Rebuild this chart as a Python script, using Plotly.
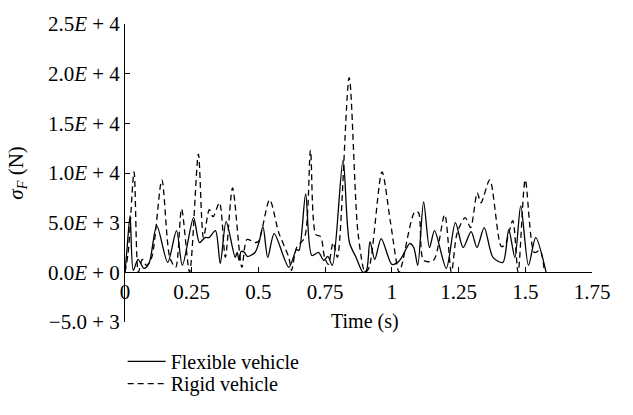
import plotly.graph_objects as go

# Flexible vehicle (solid)
flex_t = [0.0, 0.008, 0.019, 0.031, 0.049, 0.071, 0.09, 0.119, 0.16, 0.193, 0.215, 0.257,
          0.279, 0.30, 0.315, 0.339, 0.357, 0.379, 0.413, 0.42, 0.428, 0.435, 0.448, 0.458,
          0.487, 0.502, 0.517, 0.535, 0.559, 0.614, 0.643, 0.652, 0.677, 0.70, 0.725, 0.745,
          0.76, 0.777, 0.817, 0.841, 0.866, 0.892, 0.905, 0.918, 0.936, 0.96, 1.0, 1.022,
          1.037, 1.067, 1.082, 1.097, 1.119, 1.141, 1.16, 1.204, 1.238, 1.267, 1.297, 1.319,
          1.346, 1.379, 1.416, 1.438, 1.461, 1.483, 1.512, 1.539, 1.578]
flex_v = [0, 2500, 5700, 200, 1300, 400, 900, 4700, 1000, 4200, 700, 5500,
          3000, 3500, 3500, 4200, 900, 5100, 1500, 2000, 1200, 2100, 2000, 1600,
          2000, 3000, 4600, 1500, 3900, 500, 2300, 2200, 7900, 1700, 2000, 1200,
          1600, 700, 11300, 3000, 1500, 0, 200, 3100, 1300, 3400, 800, 1000,
          1500, 2900, 2500, 700, 7100, 2500, 4200, 400, 5000, 2500, 4100, 2500,
          4500, 1500, 1000, 4300, 1500, 6700, 700, 3500, 0]

# Rigid vehicle (dashed)
rigid_t = [0.0, 0.012, 0.034, 0.05, 0.065, 0.08, 0.1, 0.138, 0.168, 0.19, 0.212, 0.242,
           0.275, 0.294, 0.316, 0.33, 0.354, 0.376, 0.403, 0.438, 0.457, 0.487, 0.5, 0.542,
           0.576, 0.614, 0.624, 0.643, 0.673, 0.695, 0.715, 0.733, 0.748, 0.762, 0.78, 0.796,
           0.84, 0.873, 0.9, 0.915, 0.963, 0.995, 1.027, 1.037, 1.086, 1.1, 1.119, 1.156,
           1.198, 1.223, 1.245, 1.275, 1.295, 1.32, 1.334, 1.367, 1.41, 1.425, 1.453, 1.473,
           1.5, 1.534, 1.555, 1.572]
rigid_v = [0, 2000, 10100, 0, 1300, 700, 1500, 9300, 1500, 500, 6400, 0,
           11900, 3500, 6300, 5600, 7000, 1500, 8500, 500, 3300, 3000, 3100, 7300,
           4000, 1500, 200, 2500, 3500, 12300, 3800, 3600, 1500, 800, 3000, 1500,
           19600, 4000, 0, 500, 10100, 5000, 0, 700, 6100, 6000, 1200, 1200,
           5800, 0, 4000, 5500, 4500, 8000, 7000, 9300, 2600, 2800, 5200, 0,
           9300, 2000, 2200, 0]

x_ticks = [0, 0.25, 0.5, 0.75, 1, 1.25, 1.5, 1.75]
x_tick_labels = ["0", "0.25", "0.5", "0.75", "1", "1.25", "1.5", "1.75"]
y_ticks = [-5000, 0, 5000, 10000, 15000, 20000, 25000]
y_tick_labels = ["\u22125.0 + 3", "0.0<i>E</i> + 0", "5.0<i>E</i> + 3", "1.0<i>E</i> + 4",
                 "1.5<i>E</i> + 4", "2.0<i>E</i> + 4", "2.5<i>E</i> + 4"]

FONT = "Liberation Serif"
FS = 21

fig = go.Figure()
fig.add_trace(go.Scatter(x=flex_t, y=flex_v, mode="lines", name="Flexible vehicle",
                         legend="legend",
                         line=dict(color="black", width=1.3, shape="spline", smoothing=0.8)))
fig.add_trace(go.Scatter(x=rigid_t, y=rigid_v, mode="lines", name="Rigid vehicle",
                         legend="legend2",
                         line=dict(color="black", width=1.3, dash="6px,4px", shape="spline", smoothing=0.8)))

leg_common = dict(x=-0.005, xanchor="left", yanchor="middle", bgcolor="rgba(0,0,0,0)",
                  font=dict(family=FONT, size=20), itemwidth=38)

fig.update_layout(
    width=633, height=415,
    margin=dict(l=125, r=41, t=16, b=80),
    plot_bgcolor="white", paper_bgcolor="white",
    font=dict(family=FONT, size=FS, color="black"),
    showlegend=True,
    legend=dict(y=-0.132, **leg_common),
    legend2=dict(y=-0.207, **leg_common),
    xaxis=dict(range=[0, 1.75], tickvals=x_ticks, ticktext=x_tick_labels,
               showgrid=False, zeroline=False, showline=True, linecolor="black", linewidth=1,
               ticks="inside", ticklen=5, tickcolor="black", tickfont=dict(family=FONT, size=FS),
               anchor="free", position=1/6),
    yaxis=dict(range=[-5000, 25000], tickvals=y_ticks, ticktext=y_tick_labels,
               showgrid=False, zeroline=False, showline=True, linecolor="black", linewidth=1,
               ticks="inside", ticklen=5, tickcolor="black", tickfont=dict(family=FONT, size=FS),
               title=dict(text="<i>σ</i><sub><i>F</i></sub> (N)", standoff=18,
                          font=dict(family=FONT, size=21))),
    annotations=[dict(text="Time (s)", xref="x", yref="paper", x=0.9, y=0,
                      xanchor="center", yanchor="middle", yshift=1, showarrow=False,
                      font=dict(family=FONT, size=20))],
)

fig.write_html("out.html")
